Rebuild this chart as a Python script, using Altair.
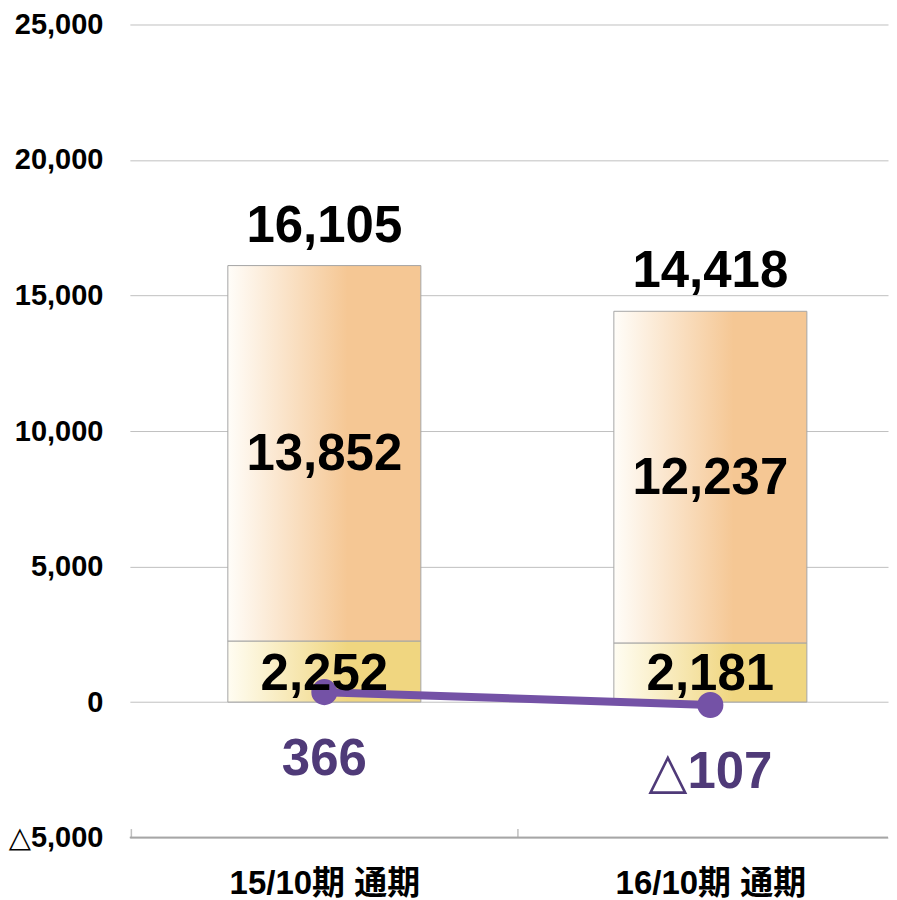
import altair as alt
import pandas as pd

periods = ["15/10期 通期", "16/10期 通期"]
lower_vals = [2252, 2181]
upper_vals = [13852, 12237]
totals = [16105, 14418]
line_vals = [366, -107]
line_labels = ["366", "△107"]

df = pd.DataFrame({
    "period": periods,
    "lower": lower_vals,
    "upper": upper_vals,
    "total": totals,
    "line": line_vals,
    "line_label": line_labels,
})
df["zero"] = 0
df["lower_mid"] = df["lower"] / 2
df["upper_mid"] = df["lower"] + df["upper"] / 2
df["lower_txt"] = df["lower"].map(lambda v: f"{v:,}")
df["upper_txt"] = df["upper"].map(lambda v: f"{v:,}")
df["total_txt"] = df["total"].map(lambda v: f"{v:,}")

W, H = 759, 814
FONT = "Liberation Sans, Arial, DejaVu Sans, Noto Sans CJK JP"

xscale = alt.Scale(paddingInner=0.5, paddingOuter=0.232, align=0.547)
yscale = alt.Scale(domain=[-5000, 25000], nice=False)

xaxis = alt.Axis(orient="bottom", labelAngle=0, offset=-9,
                 ticks=True, tickOffset=-193.5, labelOffset=193.5, tickSize=9,
                 tickColor="#BFBFBF", tickWidth=1.5,
                 domain=False, labelBound=False, labelOverlap=False, labelLimit=400,
                 labelFont=FONT, labelFontSize=33, labelFontWeight="bold",
                 labelColor="#000000", labelPadding=30)


def X():
    return alt.X("period:N", sort=periods, scale=xscale, title=None, axis=xaxis)


yaxis = alt.Axis(values=[-5000, 0, 5000, 10000, 15000, 20000, 25000],
                 labelExpr="datum.value < 0 ? '△' + format(-datum.value, ',') : format(datum.value, ',')",
                 domain=False, ticks=False, grid=True, gridColor="#C0C0C0", gridWidth=1,
                 labelFont=FONT, labelFontSize=29, labelFontWeight="bold", labelColor="#000000",
                 labelPadding=27, minExtent=122, maxExtent=122)


def Y(field):
    return alt.Y(field, scale=yscale, axis=yaxis, title=None)


base = alt.Chart(df)

orange_grad = alt.Gradient(gradient="linear", x1=0, y1=0, x2=1, y2=0,
                           stops=[alt.GradientStop(offset=0, color="#FFFDF9"),
                                  alt.GradientStop(offset=0.62, color="#F5C794"),
                                  alt.GradientStop(offset=1, color="#F5C794")])
yellow_grad = alt.Gradient(gradient="linear", x1=0, y1=0, x2=1, y2=0,
                           stops=[alt.GradientStop(offset=0, color="#FFFDF2"),
                                  alt.GradientStop(offset=0.62, color="#F0D680"),
                                  alt.GradientStop(offset=1, color="#F0D680")])

bottom_rule = base.mark_rule(color="#A6A6A6", strokeWidth=1.5).encode(
    y=alt.datum(-5000, type="quantitative", scale=yscale, axis=yaxis, title=None))

lower_bar = base.mark_bar(color=yellow_grad, stroke="#A6A6A6", strokeWidth=1).encode(
    x=X(), y=Y("lower:Q"), y2=alt.Y2("zero:Q"))

upper_bar = base.mark_bar(color=orange_grad, stroke="#A6A6A6", strokeWidth=1).encode(
    x=X(), y=Y("lower:Q"), y2=alt.Y2("total:Q"))

line = base.mark_line(color="#7452A6", strokeWidth=8).encode(x=X(), y=Y("line:Q"))
points = base.mark_circle(color="#7452A6", size=680, opacity=1).encode(x=X(), y=Y("line:Q"))

txt_kw = dict(font=FONT, fontWeight="bold", fontSize=51, color="#000000")
total_txt = base.mark_text(baseline="bottom", dy=-13, **txt_kw).encode(
    x=X(), y=Y("total:Q"), text="total_txt:N")
upper_txt = base.mark_text(baseline="middle", dy=2, **txt_kw).encode(
    x=X(), y=Y("upper_mid:Q"), text="upper_txt:N")
lower_txt = base.mark_text(baseline="middle", dy=3, **txt_kw).encode(
    x=X(), y=Y("lower_mid:Q"), text="lower_txt:N")
line_txt = base.mark_text(baseline="middle", dy=68, font=FONT, fontWeight="bold",
                          fontSize=51, color="#4F3A78").encode(
    x=X(), y=Y("line:Q"), text="line_label:N")

chart = alt.layer(lower_bar, upper_bar, bottom_rule, line, points,
                  total_txt, upper_txt, lower_txt, line_txt).properties(
    width=W, height=H, background="#FFFFFF",
    padding={"left": 0, "top": 2, "right": 0, "bottom": 0},
).configure_view(stroke=None)

chart.save("out.html", embed_options={"renderer": "svg", "actions": False})
